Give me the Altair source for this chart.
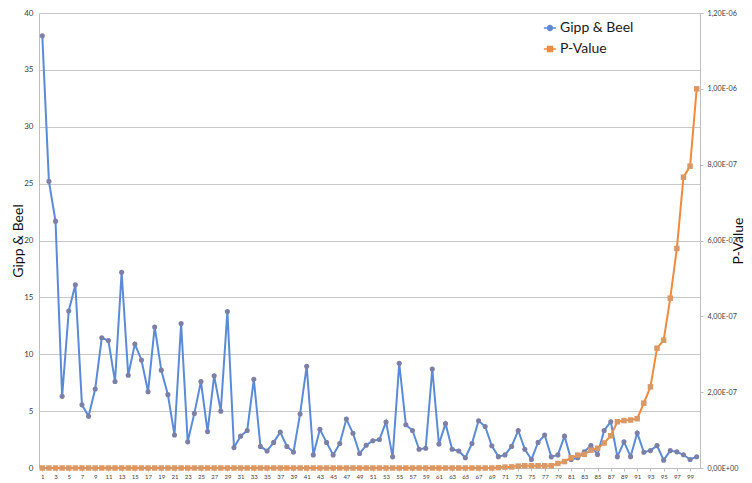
import altair as alt
import pandas as pd

# ---------------- data ----------------
index = list(range(1, 101))

gipp_beel = [
    38.0, 25.2, 21.7, 6.3, 13.8, 16.1, 5.55, 4.55, 6.95, 11.45,
    11.2, 7.6, 17.2, 8.15, 10.9, 9.5, 6.7, 12.4, 8.6, 6.45,
    2.9, 12.7, 2.3, 4.8, 7.6, 3.2, 8.1, 5.0, 13.75, 1.8,
    2.8, 3.3, 7.8, 1.9, 1.5, 2.25, 3.15, 1.9, 1.4, 4.75,
    8.95, 1.15, 3.4, 2.25, 1.15, 2.15, 4.3, 3.05, 1.27, 2.0,
    2.4, 2.5, 4.05, 0.98, 9.2, 3.8, 3.3, 1.65, 1.74, 8.7,
    2.1, 3.9, 1.65, 1.5, 0.9, 2.15, 4.15, 3.65, 1.95, 1.0,
    1.15, 1.9, 3.3, 1.65, 0.75, 2.25, 2.9, 0.98, 1.15, 2.8,
    0.75, 0.9, 1.42, 1.97, 1.19, 3.3, 4.07, 1.0, 2.3, 1.0,
    3.08, 1.39, 1.53, 1.97, 0.69, 1.53, 1.42, 1.16, 0.75, 0.99,
]

p_value = [
    0, 0, 0, 0, 0, 0, 0, 0, 0, 0,
    0, 0, 0, 0, 0, 0, 0, 0, 0, 0,
    0, 0, 0, 0, 0, 0, 0, 0, 0, 0,
    0, 0, 0, 0, 0, 0, 0, 0, 0, 0,
    0, 0, 0, 0, 0, 0, 0, 0, 0, 0,
    0, 0, 0, 0, 0, 0, 0, 0, 0, 0,
    0, 0, 0, 0, 0, 0, 0, 0, 0, 1e-9,
    2.4e-9, 3e-9, 5e-9, 6e-9, 6e-9, 6e-9, 6e-9, 6e-9, 1.2e-8, 1.7e-8,
    2.7e-8, 3.4e-8, 3.6e-8, 4.7e-8, 5.2e-8, 6.6e-8, 8.5e-8, 1.22e-7, 1.25e-7, 1.265e-7,
    1.3e-7, 1.71e-7, 2.14e-7, 3.16e-7, 3.37e-7, 4.48e-7, 5.79e-7, 7.67e-7, 7.96e-7, 1.0e-6,
]

series_names = ["Gipp & Beel", "P-Value"]
x_tick_values = list(range(1, 100, 2))
left_ticks = [0, 5, 10, 15, 20, 25, 30, 35, 40]
right_ticks = [0, 2e-7, 4e-7, 6e-7, 8e-7, 1e-6, 1.2e-6]

df = pd.DataFrame({"n": index, "gipp": gipp_beel, "p": p_value})
legend_df = pd.DataFrame({"series": series_names, "n": [None, None]})

FONT = "Lato"
BLUE_LINE = "#5b8bd8"
BLUE_MARK = "#7d80a6"
ORANGE_LINE = "#f08a3c"
ORANGE_MARK = "#d99866"
AXIS_GRAY = "#bfbfbf"

PLOT_H = 455

x_enc = alt.X(
    "n:Q",
    scale=alt.Scale(domain=[0.5, 100.5], nice=False, zero=False),
    axis=alt.Axis(
        values=x_tick_values, labelFontSize=6, labelOverlap=False, grid=False,
        title=None, tickSize=3, tickColor=AXIS_GRAY, domainColor=AXIS_GRAY,
        labelColor="#404040", labelPadding=2, labelFlush=False,
    ),
)

left_axis = alt.Axis(
    values=left_ticks, title="Gipp & Beel", titleFontSize=14, titleFontWeight="normal",
    titleColor="#111111", titleX=-14, titleY=PLOT_H / 2, titleAngle=270,
    titleBaseline="bottom", titleAlign="center",
    labelFontSize=8, labelColor="#404040", labelPadding=6, ticks=False,
    domain=True, domainColor=AXIS_GRAY, grid=True, gridColor="#c8c8c8", gridWidth=1,
)

right_axis = alt.Axis(
    orient="right", values=right_ticks,
    labelExpr="replace(replace(replace(format(datum.value, '.2e'), '.', ','), 'e-', 'E-0'), 'e+', 'E+0')",
    title="P-Value", titleFontSize=14, titleFontWeight="normal", titleColor="#111111",
    titleX=31, titleY=PLOT_H / 2, titleAngle=270, titleBaseline="top", titleAlign="center",
    labelFontSize=7.2, labelColor="#404040", labelPadding=4,
    tickSize=3, tickColor=AXIS_GRAY, domainColor=AXIS_GRAY, grid=False,
)

base = alt.Chart(df)

y_left = alt.Y("gipp:Q", scale=alt.Scale(domain=[0, 40], nice=False), axis=left_axis)
y_right = alt.Y("p:Q", scale=alt.Scale(domain=[0, 1.2e-6], nice=False), axis=right_axis)

blue_line = base.mark_line(color=BLUE_LINE, strokeWidth=2).encode(x=x_enc, y=y_left)
blue_pts = base.mark_point(filled=True, shape="circle", size=26, color=BLUE_MARK, opacity=1).encode(x=x_enc, y=y_left)

orange_line = base.mark_line(color=ORANGE_LINE, strokeWidth=2).encode(x=x_enc, y=y_right)
orange_pts = base.mark_point(filled=True, shape="square", size=30, color=ORANGE_MARK, opacity=1).encode(x=x_enc, y=y_right)

legend_def = alt.Legend(
    title=None, orient="none", legendX=504, legendY=8, labelFontSize=14,
    labelColor="#1a1a1a", symbolSize=150, symbolStrokeWidth=1.5, rowPadding=7,
    labelOffset=3, padding=0,
)
circle_path = "M-1,0H1M-0.4,0A0.4,0.4,0,1,1,0.4,0A0.4,0.4,0,1,1,-0.4,0Z"
square_path = "M-1,0H1M-0.4,-0.4H0.4V0.4H-0.4Z"

legend_layer = alt.Chart(legend_df).mark_point(filled=True, opacity=1, strokeWidth=1.5).encode(
    x=x_enc,
    fill=alt.Fill("series:N", scale=alt.Scale(domain=series_names, range=[BLUE_MARK, ORANGE_MARK]), legend=legend_def),
    stroke=alt.Stroke("series:N", scale=alt.Scale(domain=series_names, range=[BLUE_LINE, ORANGE_LINE]), legend=legend_def),
    shape=alt.Shape("series:N", scale=alt.Scale(domain=series_names, range=[circle_path, square_path]), legend=legend_def),
)

chart = (
    alt.layer(
        alt.layer(blue_line, blue_pts),
        alt.layer(orange_line, orange_pts),
        legend_layer,
    )
    .resolve_scale(y="independent")
    .properties(
        width=661, height=PLOT_H,
        autosize=alt.AutoSizeParams(type="none"),
        padding={"left": 31, "top": 5, "right": 44, "bottom": 13},
        background="white",
    )
    .configure_view(stroke=None)
    .configure_axis(labelFont=FONT, titleFont=FONT)
    .configure_legend(labelFont=FONT)
)

chart.save("out.html", embed_options={"renderer": "svg", "actions": False})
